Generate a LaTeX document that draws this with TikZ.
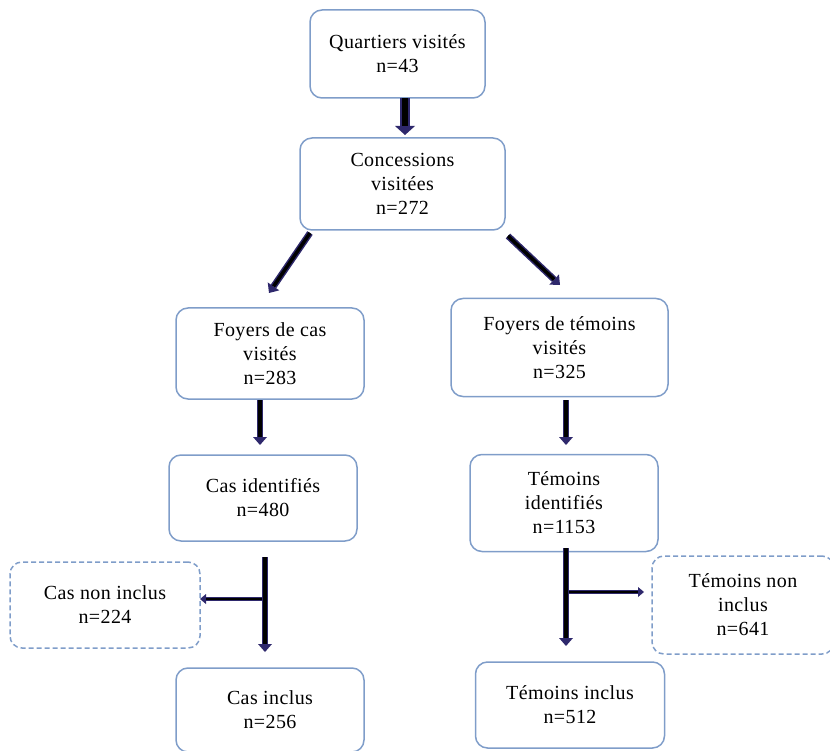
\documentclass[tikz,border=0pt]{standalone}
\usepackage{fontspec}
\setmainfont[LetterSpace=2.0]{Liberation Serif}
\usetikzlibrary{arrows.meta}
\definecolor{boxblue}{RGB}{127,157,201}
\definecolor{arrnavy}{RGB}{46,40,108}
\begin{document}
\begin{tikzpicture}[x=1pt,y=-1pt,
  box/.style={draw=boxblue, line width=1.5pt, rounded corners=12pt, align=center,
    font=\fontsize{20}{24}\selectfont, inner sep=0pt},
  dbox/.style={box, dash pattern=on 5pt off 3pt},
  arrA/.style={draw=arrnavy, line width=10pt, -{Triangle[width=20pt,length=9pt,line width=0pt]},
    postaction={draw=black, line width=6pt, -, shorten >=9pt}},
  arrB/.style={draw=arrnavy, line width=6.5pt, -{Triangle[width=14pt,length=8pt,line width=0pt]},
    postaction={draw=black, line width=3.5pt, -, shorten >=8pt}},
  arrC/.style={draw=arrnavy, line width=4.5pt, -{Triangle[width=10pt,length=6pt,line width=0pt]},
    postaction={draw=black, line width=1.2pt, -, shorten >=6pt}}
]
\useasboundingbox (0,0) rectangle (830,751);

\node[box, minimum width=175pt, minimum height=88pt] (q) at (397.5,54) {Quartiers visités\\n=43};
\node[box, minimum width=205pt, minimum height=92pt] (c) at (402.5,184) {Concessions\\visitées\\n=272};
\node[box, minimum width=188pt, minimum height=91pt] (fc) at (270,353.5) {Foyers de cas\\visités\\n=283};
\node[box, minimum width=217pt, minimum height=98pt] (ft) at (559.5,347.5) {Foyers de témoins\\visités\\n=325};
\node[box, minimum width=188pt, minimum height=86pt] (ci) at (263,498) {Cas identifiés\\n=480};
\node[box, minimum width=188pt, minimum height=97pt] (ti) at (564,503) {Témoins\\identifiés\\n=1153};
\node[dbox, minimum width=190pt, minimum height=86pt] (cni) at (105,605) {Cas non inclus\\n=224};
\node[box, minimum width=188pt, minimum height=84pt] (cin) at (270,710) {Cas inclus\\n=256};
\node[dbox, minimum width=182pt, minimum height=98pt] (tni) at (743,605) {Témoins non\\inclus\\n=641};
\node[box, minimum width=189pt, minimum height=86pt] (tin) at (570,705) {Témoins inclus\\n=512};

\coordinate (a1s) at (405,98);   \coordinate (a1e) at (405,135);
\coordinate (a2s) at (310,233);  \coordinate (a2e) at (269,293);
\coordinate (a3s) at (508,236);  \coordinate (a3e) at (560,285);
\coordinate (a4s) at (260,400);  \coordinate (a4e) at (260,445);
\coordinate (a5s) at (566,400);  \coordinate (a5e) at (566,445);
\coordinate (a6s) at (265,557);  \coordinate (a6e) at (265,652);
\coordinate (a6b) at (265,599);  \coordinate (a6h) at (200,599);
\coordinate (a7s) at (566,548);  \coordinate (a7e) at (566,646);
\coordinate (a7b) at (568,592);  \coordinate (a7h) at (644,592);

\draw[arrA] (a1s) -- (a1e);
\draw[arrB] (a2s) -- (a2e);
\draw[arrB] (a3s) -- (a3e);
\draw[arrB] (a4s) -- (a4e);
\draw[arrB] (a5s) -- (a5e);
\draw[arrC] (a6b) -- (a6h);
\draw[arrB] (a6s) -- (a6e);
\draw[arrC] (a7b) -- (a7h);
\draw[arrB] (a7s) -- (a7e);
\end{tikzpicture}
\end{document}
